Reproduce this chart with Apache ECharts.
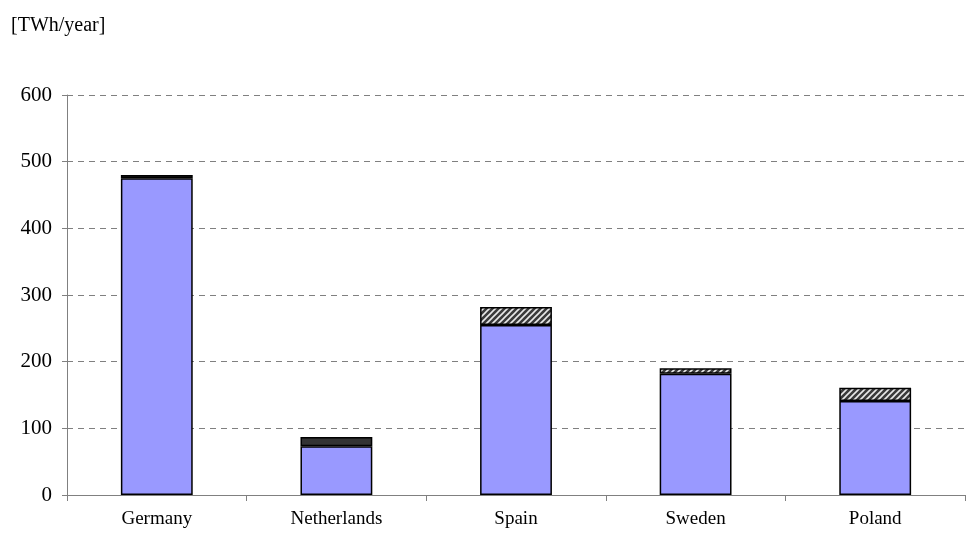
<!DOCTYPE html>
<html>
<head>
<meta charset="utf-8">
<script src="https://cdn.jsdelivr.net/npm/echarts@6/dist/echarts.min.js"></script>
<style>
  html, body { margin: 0; padding: 0; background: #ffffff; }
  #chart { width: 970px; height: 535px; }
</style>
</head>
<body>
<div id="chart"></div>
<script>
// Electricity generation by country, TWh per year
const countries = ['Germany', 'Netherlands', 'Spain', 'Sweden', 'Poland'];
const baseValues = [475, 73, 255, 182, 141];
const darkValues = [5, 14, 0, 0, 0];
const hatchValues = [0, 0, 27, 8, 20];
const yTicks = [0, 100, 200, 300, 400, 500, 600];

// Diagonal-striped fill for the hatched segment
function makeHatch() {
  const c = document.createElement('canvas');
  c.width = 6; c.height = 6;
  const g = c.getContext('2d');
  g.fillStyle = '#3a3a3a';
  g.fillRect(0, 0, 6, 6);
  g.strokeStyle = '#e8e8e8';
  g.lineWidth = 1.6;
  g.beginPath();
  g.moveTo(-1, 7); g.lineTo(7, -1);
  g.moveTo(-4, 4); g.lineTo(4, -4);
  g.moveTo(2, 10); g.lineTo(10, 2);
  g.stroke();
  return c;
}

const serif = '"Liberation Serif", "DejaVu Serif", serif';
const chart = echarts.init(document.getElementById('chart'), null, { renderer: 'canvas' });

const border = { borderColor: '#000000', borderWidth: 1.5 };

chart.setOption({
  animation: false,
  backgroundColor: '#ffffff',
  title: {
    text: '[TWh/year]',
    left: 6, top: 11,
    textStyle: { fontFamily: serif, fontSize: 20, fontWeight: 'normal', color: '#000' }
  },
  grid: { left: 67, right: 5, top: 95, bottom: 40 },
  xAxis: {
    type: 'category',
    data: countries,
    axisLine: { lineStyle: { color: '#808080', width: 1 } },
    axisTick: { show: true, length: 6, lineStyle: { color: '#808080' } },
    axisLabel: { fontFamily: serif, fontSize: 19, color: '#000', margin: 15 }
  },
  yAxis: {
    type: 'value',
    min: yTicks[0], max: yTicks[yTicks.length - 1], interval: 100,
    axisLine: { show: true, lineStyle: { color: '#808080', width: 1 } },
    axisTick: { show: true, length: 5, lineStyle: { color: '#808080' } },
    axisLabel: { fontFamily: serif, fontSize: 21, color: '#000', margin: 15 },
    splitLine: { show: true, lineStyle: { color: '#808080', type: [6, 5], width: 1 } }
  },
  series: [
    {
      type: 'bar', stack: 'total', barWidth: '40%',
      data: baseValues,
      itemStyle: Object.assign({ color: '#9999ff' }, border)
    },
    {
      type: 'bar', stack: 'total',
      data: darkValues.map(v => v || '-'),
      itemStyle: Object.assign({ color: '#333333' }, border)
    },
    {
      type: 'bar', stack: 'total',
      data: hatchValues.map(v => v || '-'),
      itemStyle: Object.assign({ color: { image: makeHatch(), repeat: 'repeat' } }, border)
    }
  ]
});
</script>
</body>
</html>
